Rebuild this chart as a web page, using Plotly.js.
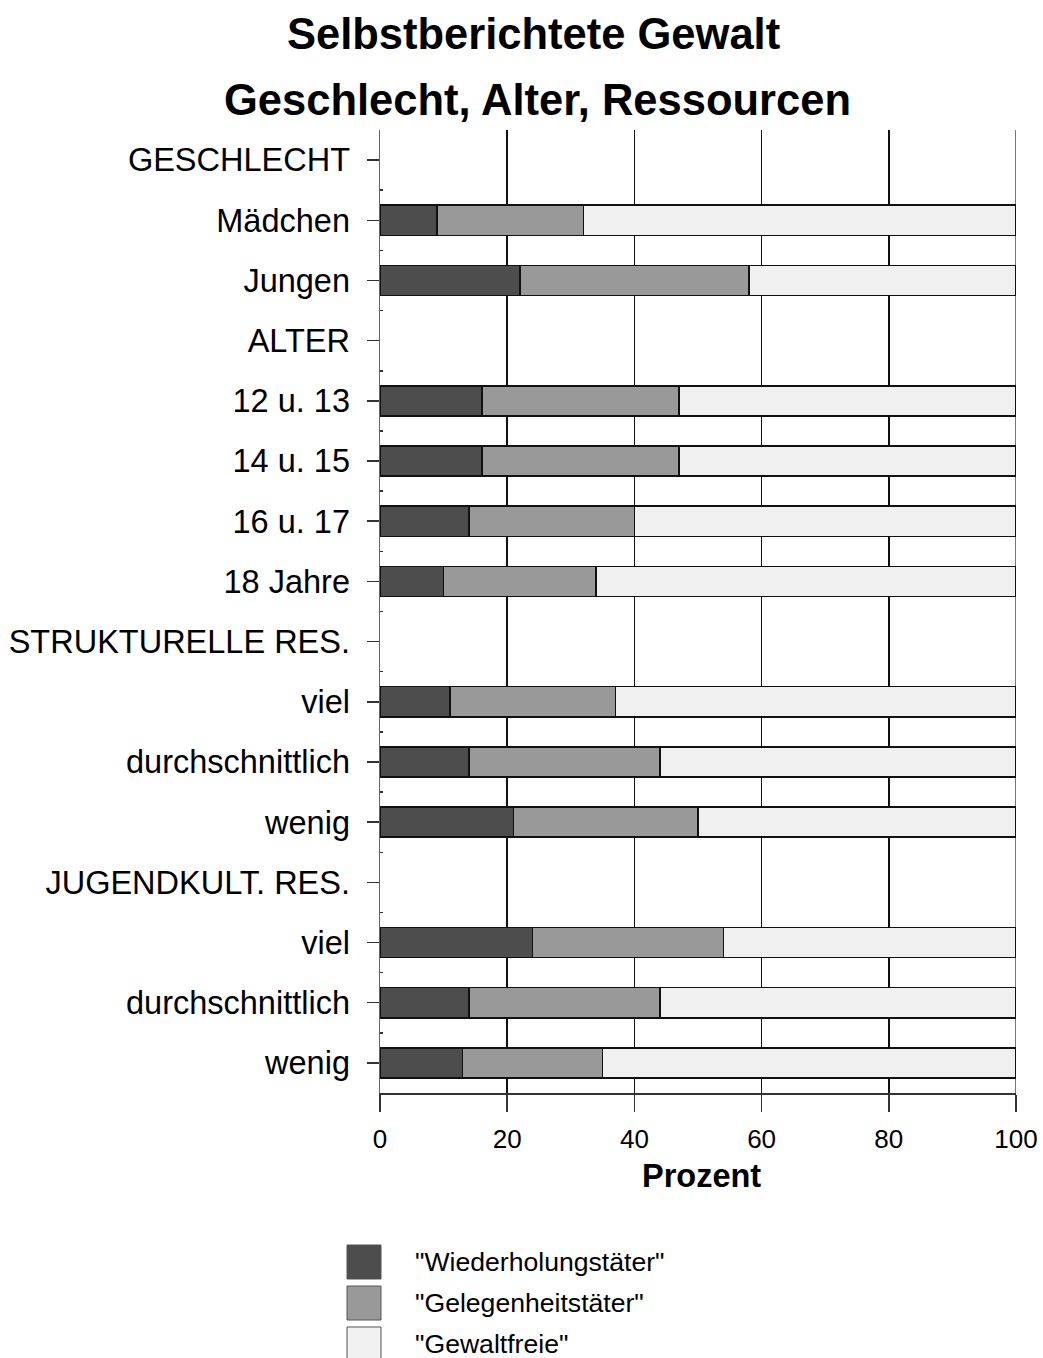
<!DOCTYPE html>
<html>
<head>
<meta charset="utf-8">
<script src="https://cdn.plot.ly/plotly-3.0.1.min.js"></script>
<style>html,body{margin:0;padding:0;background:#fff;}#chart{width:1043px;height:1358px;}</style>
</head>
<body>
<div id="chart"></div>
<script>
var categories = ["GESCHLECHT", "Mädchen", "Jungen", "ALTER", "12 u. 13", "14 u. 15", "16 u. 17", "18 Jahre",
  "STRUKTURELLE RES.", "viel", "durchschnittlich", "wenig", "JUGENDKULT. RES.", "viel", "durchschnittlich", "wenig"];
var wiederholung = [null, 9, 22, null, 16, 16, 14, 10, null, 11, 14, 21, null, 24, 14, 13];
var gelegenheit  = [null, 23, 36, null, 31, 31, 26, 24, null, 26, 30, 29, null, 30, 30, 22];
var gewaltfrei   = [null, 68, 42, null, 53, 53, 60, 66, null, 63, 56, 50, null, 46, 56, 65];
var seriesNames  = ['"Wiederholungstäter"', '"Gelegenheitstäter"', '"Gewaltfreie"'];
var seriesColors = ["#4d4d4d", "#999999", "#f0f0f0"];
var xTicks = [0, 20, 40, 60, 80, 100];

var positions = categories.map(function (c, i) { return i; });
var seriesData = [wiederholung, gelegenheit, gewaltfrei];
var FONT = "Liberation Sans, Arial, sans-serif";

var traces = seriesData.map(function (vals, k) {
  return {
    type: "bar", orientation: "h",
    x: vals, y: positions, name: seriesNames[k],
    width: 0.5,
    marker: { color: seriesColors[k], line: { color: "#111", width: 1.5 } },
    showlegend: false, hoverinfo: "x+name"
  };
});

// plot area geometry in pixels (for paper-coordinate conversions)
var L = 380, R = 1016, T = 130, B = 1093;
function px2x(p) { return (p - L) / (R - L); }
function py2y(p) { return (B - p) / (B - T); }

var shapes = [], annotations = [];
// gridline at the right end of the axis range
shapes.push({ type: "line", xref: "x", yref: "paper", x0: xTicks[xTicks.length - 1], x1: xTicks[xTicks.length - 1],
  y0: 0, y1: 1, line: { color: "#777", width: 2 }, layer: "below" });

var legTop = [1245, 1286, 1327];
seriesNames.forEach(function (n, k) {
  shapes.push({
    type: "rect", xref: "paper", yref: "paper",
    x0: px2x(347), x1: px2x(381), y0: py2y(legTop[k]), y1: py2y(legTop[k] + 34),
    fillcolor: seriesColors[k], line: { color: "#555", width: 1 }
  });
  annotations.push({
    xref: "paper", yref: "paper", x: px2x(413), y: py2y(legTop[k] + 17),
    xanchor: "left", yanchor: "middle", showarrow: false, text: n,
    font: { family: FONT, size: 26.6, color: "#000" }
  });
});
annotations.push({
  xref: "paper", yref: "paper", x: px2x(533), y: py2y(34), xanchor: "center", yanchor: "middle",
  showarrow: false, text: "<b>Selbstberichtete Gewalt</b>", font: { family: FONT, size: 43.5, color: "#000" }
});
annotations.push({
  xref: "paper", yref: "paper", x: px2x(537), y: py2y(100), xanchor: "center", yanchor: "middle",
  showarrow: false, text: "<b>Geschlecht, Alter, Ressourcen</b>", font: { family: FONT, size: 43.5, color: "#000" }
});
annotations.push({
  xref: "paper", yref: "paper", x: px2x(701), y: py2y(1176), xanchor: "center", yanchor: "middle",
  showarrow: false, text: "<b>Prozent</b>", font: { family: FONT, size: 32.5, color: "#000" }
});

var minorVals = positions.slice(0, -1).map(function (p) { return p + 0.5; });

var layout = {
  width: 1043, height: 1358,
  margin: { l: L, r: 1043 - R, t: T, b: 1358 - B, pad: 0 },
  paper_bgcolor: "#fff", plot_bgcolor: "#fff",
  barmode: "stack", showlegend: false,
  font: { family: FONT, color: "#000" },
  xaxis: {
    range: [0, 100], tickmode: "array", tickvals: xTicks,
    showgrid: true, gridcolor: "#111", gridwidth: 1.5,
    zeroline: false, showline: true, linecolor: "#333", linewidth: 1.5,
    ticks: "outside", ticklen: 17, tickwidth: 1.5, tickcolor: "#333",
    ticklabelstandoff: 5,
    tickfont: { family: FONT, size: 26, color: "#000" }
  },
  yaxis: {
    range: [15.5, -0.5], tickmode: "array", tickvals: positions, ticktext: categories,
    showgrid: false, zeroline: false, showline: true, linecolor: "#666", linewidth: 1.5,
    ticks: "outside", ticklen: 12, tickwidth: 1.5, tickcolor: "#333",
    ticklabelstandoff: 10,
    tickfont: { family: FONT, size: 32.5, color: "#000" },
    minor: { tickmode: "array", tickvals: minorVals, ticks: "inside", ticklen: 3, tickcolor: "#333", showgrid: false }
  },
  shapes: shapes,
  annotations: annotations
};

Plotly.newPlot("chart", traces, layout, { displayModeBar: false, staticPlot: true });
</script>
</body>
</html>
